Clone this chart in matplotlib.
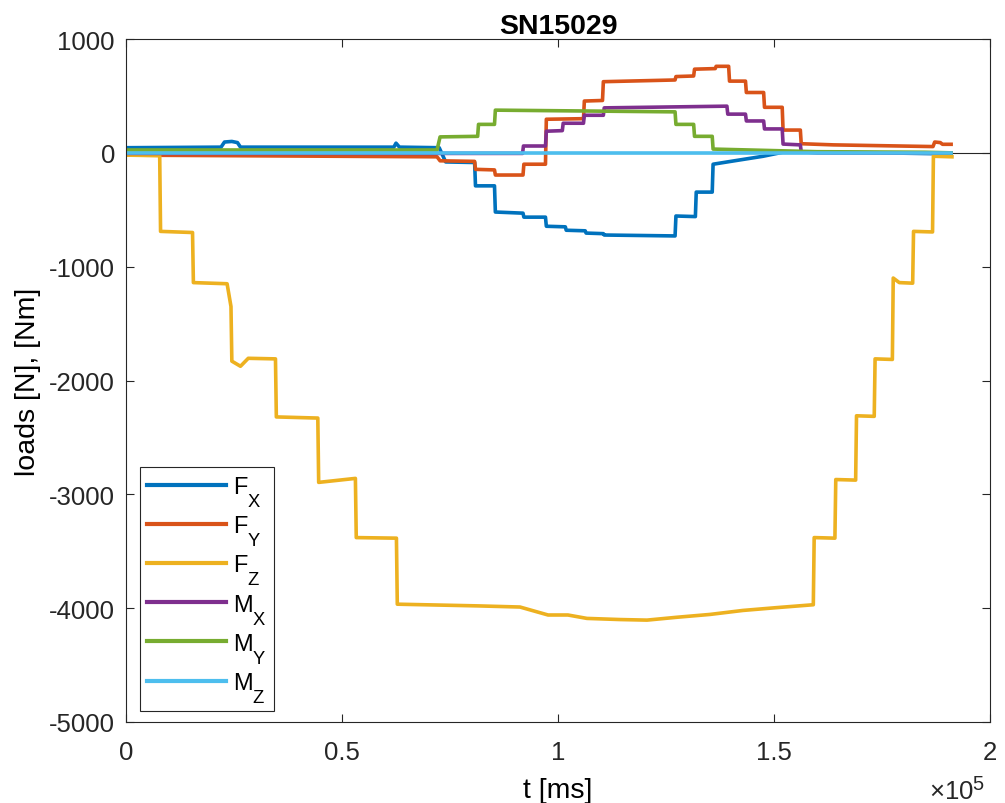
import matplotlib
matplotlib.use("Agg")
import matplotlib.pyplot as plt
from matplotlib.ticker import FuncFormatter, MultipleLocator

try:
    import matplotlib._mathtext as _mt
    _mt.FontConstantsBase.sub1 = 1.0
    _mt.SHRINK_FACTOR = 0.78
except Exception:
    pass

plt.rcParams['font.family'] = ['Liberation Sans', 'DejaVu Sans']
plt.rcParams['mathtext.fontset'] = 'custom'
plt.rcParams['mathtext.rm'] = 'Liberation Sans'
plt.rcParams['mathtext.it'] = 'Liberation Sans'
plt.rcParams['mathtext.bf'] = 'Liberation Sans:bold'
plt.rcParams['axes.unicode_minus'] = False

title = "SN15029"
xlabel = "t [ms]"
ylabel = "loads [N], [Nm]"
labels = [r"F$_\mathrm{X}$", r"F$_\mathrm{Y}$", r"F$_\mathrm{Z}$",
          r"M$_\mathrm{X}$", r"M$_\mathrm{Y}$", r"M$_\mathrm{Z}$"]
colors = ["#0072BD", "#D95319", "#EDB120", "#7E2F8E", "#77AC30", "#4DBEEE"]

# time breakpoints [ms] and values
fx_t = [0, 22000, 22800, 24500, 25800, 26500, 62000, 62500, 63300, 72500, 74000,
        80700, 80900, 85300, 85500, 91900, 92100, 97100, 97300, 101700, 101900,
        106300, 106500, 110500, 110700, 127100, 127300, 131800, 132000, 135700, 135900,
        140000, 147500, 152000, 160000, 175000, 191000]
fx_v = [45, 50, 95, 100, 90, 50, 50, 85, 50, 45, -80,
        -85, -290, -290, -520, -530, -565, -565, -645, -650, -680,
        -685, -705, -710, -722, -730, -555, -560, -345, -345, -100,
        -75, -30, 5, 5, 0, -10]

fy_t = [0, 72000, 72700, 80700, 80900, 85300, 85500, 91900, 92100, 97100, 97300,
        105900, 106100, 110300, 110500, 127100, 127300, 131400, 131600, 136400, 136600,
        139500, 139700, 143400, 143600, 147600, 147800, 151900, 152100, 156100, 156300,
        163700, 186800, 187200, 188500, 189000, 191000]
fy_v = [-20, -35, -70, -75, -145, -150, -195, -195, -100, -100, 295,
        300, 455, 460, 625, 640, 670, 675, 735, 740, 760,
        760, 630, 630, 530, 530, 400, 400, 200, 200, 80,
        70, 55, 95, 90, 75, 75]

fz_t = [0, 7800, 8000, 15400, 15600, 23400, 24300, 24500, 26500, 28300, 34600, 34800,
        44400, 44600, 53100, 53300, 62600, 62800, 81500, 91200, 97700, 102300, 106700,
        114400, 120600, 127500, 135200, 142800, 150700, 159100, 159300, 164100, 164300,
        168900, 169100, 173200, 173400, 177400, 177600, 179000, 182100, 182300, 186700,
        186900, 191200]
fz_v = [-20, -25, -690, -700, -1140, -1150, -1350, -1830, -1875, -1805, -1810, -2320,
        -2330, -2895, -2860, -3380, -3385, -3965, -3980, -3990, -4060, -4060, -4090,
        -4100, -4105, -4080, -4055, -4020, -3995, -3970, -3380, -3385, -2870,
        -2875, -2310, -2315, -1810, -1815, -1100, -1140, -1145, -690, -695,
        -30, -35]

mx_t = [0, 91800, 92000, 97100, 97300, 101000, 101200, 105900, 106100, 110500, 110700,
        139100, 139300, 143400, 143600, 147600, 147800, 151900, 152100, 156100, 156300,
        160000, 191000]
mx_v = [-5, -5, 60, 60, 190, 195, 260, 260, 330, 330, 395,
        410, 340, 340, 280, 280, 210, 210, 77, 70, 10,
        0, 0]

my_t = [0, 72000, 72700, 81400, 81600, 85300, 85500, 127100, 127300, 131400, 131600,
        135700, 135900, 160000, 185000, 191000]
my_v = [25, 25, 140, 145, 250, 250, 375, 360, 250, 250, 145,
        145, 33, 10, 5, 0]

mz_t = [0, 191000]
mz_v = [-3, -3]

series = [(fx_t, fx_v), (fy_t, fy_v), (fz_t, fz_v), (mx_t, mx_v), (my_t, my_v), (mz_t, mz_v)]

fig = plt.figure(figsize=(10.05, 8.04), dpi=100)
ax = fig.add_axes([126/1005, 1 - 723/804, 864/1005, 683/804])

axcol = "#262626"
ax.axhline(0, color=axcol, lw=0.8, zorder=1)
for (t, v), lab, c in zip(series, labels, colors):
    ax.plot(t, v, color=c, lw=2.6, label=lab, zorder=2)

ax.set_xlim(0, 2e5)
ax.set_ylim(-5000, 1000)
ax.xaxis.set_major_locator(MultipleLocator(0.5e5))
ax.yaxis.set_major_locator(MultipleLocator(1000))
ax.xaxis.set_major_formatter(FuncFormatter(lambda x, p: f"{x/1e5:g}"))
ax.yaxis.set_major_formatter(FuncFormatter(lambda y, p: f"{y:g}"))
ax.tick_params(direction='in', length=6, width=0.8, colors=axcol, labelsize=18.5,
               top=True, right=True, pad=8)
ax.tick_params(axis='x', pad=13)
for s in ax.spines.values():
    s.set_color(axcol)
    s.set_linewidth(0.8)

ax.set_title(title, fontsize=20.5, fontweight='bold', pad=4)
ax.set_xlabel(xlabel, fontsize=20.5, labelpad=9)
ax.set_ylabel(ylabel, fontsize=20.5, labelpad=6)
fig.text(985/1005, 1 - 800/804, r"$\times10^{5}$", fontsize=18.5, ha='right', va='baseline',
         color=axcol)

leg = ax.legend(loc='lower left', bbox_to_anchor=(14/864, 11/683), borderaxespad=0,
                fontsize=17, handlelength=3.35, handletextpad=0.3, labelspacing=0.22,
                borderpad=0.3, fancybox=False, framealpha=1, edgecolor=axcol)
leg.get_frame().set_linewidth(0.8)
for ln in leg.get_lines():
    ln.set_linewidth(3)

fig.savefig("out.png", dpi=100)
